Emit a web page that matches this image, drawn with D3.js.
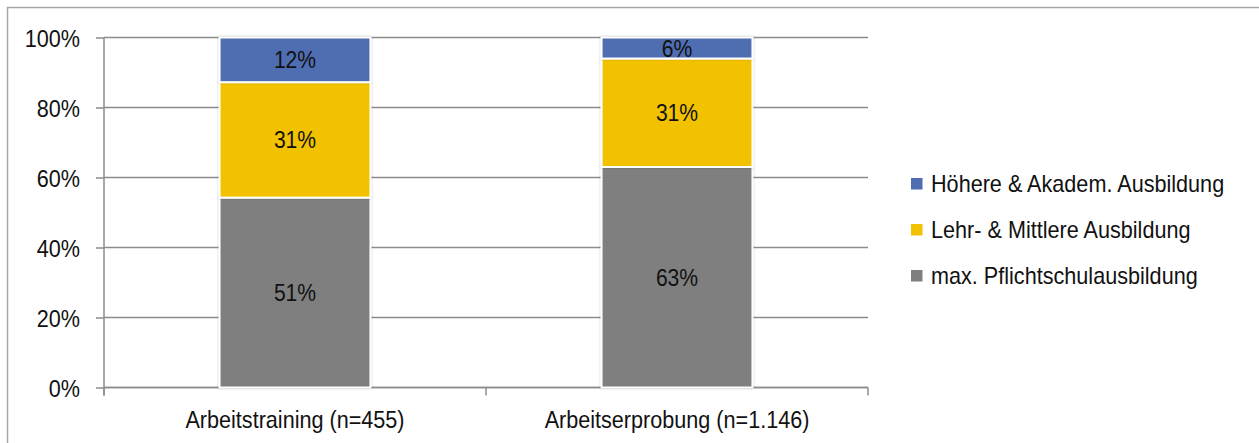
<!DOCTYPE html>
<html>
<head>
<meta charset="utf-8">
<script src="https://cdn.jsdelivr.net/npm/d3@7"></script>
<style>
  html, body { margin: 0; padding: 0; background: #fff; }
  svg { display: block; font-family: "Liberation Sans", Arial, sans-serif; }
</style>
</head>
<body>
<svg id="chart" width="1259" height="443"></svg>
<script>
// Education level by programme, shares of participants
const categories = ["Arbeitstraining (n=455)", "Arbeitserprobung (n=1.146)"];
const seriesNames = ["max. Pflichtschulausbildung", "Lehr- & Mittlere Ausbildung", "Höhere & Akadem. Ausbildung"];
const pflichtschule = [51, 63];
const lehrMittlere = [31, 31];
const hoehereAkadem = [12, 6];
const yTicks = [0, 0.2, 0.4, 0.6, 0.8, 1];
const colors = ["#7f7f7f", "#f2c200", "#506db1"];

const rows = categories.map((c, i) => ({
  category: c,
  [seriesNames[0]]: pflichtschule[i],
  [seriesNames[1]]: lehrMittlere[i],
  [seriesNames[2]]: hoehereAkadem[i]
}));

const svg = d3.select("#chart");
const margin = { left: 104, right: 1259 - 868, top: 37.5, bottom: 443 - 387.5 };
const plotW = 1259 - margin.left - margin.right;
const plotH = 443 - margin.top - margin.bottom;

// outer frame
svg.append("rect")
  .attr("x", 7.5).attr("y", 7.5)
  .attr("width", 1300).attr("height", 500)
  .attr("fill", "none").attr("stroke", "#a6a6a6").attr("stroke-width", 1.5);

const g = svg.append("g").attr("transform", `translate(${margin.left},${margin.top})`);

const x = d3.scaleBand().domain(categories).range([0, plotW])
  .paddingInner(0.605).paddingOuter(0.3025);
const y = d3.scaleLinear().domain([0, 1]).range([plotH, 0]);
const color = d3.scaleOrdinal().domain(seriesNames).range(colors);

const stack = d3.stack().keys(seriesNames).offset(d3.stackOffsetExpand);
const layers = stack(rows);

// horizontal gridlines
g.append("g").selectAll("line").data(yTicks).join("line")
  .attr("x1", 0).attr("x2", plotW)
  .attr("y1", d => y(d)).attr("y2", d => y(d))
  .attr("stroke", "#8c8c8c").attr("stroke-width", 1.5);

// y axis
const yAxis = g.append("g")
  .call(d3.axisLeft(y).tickValues(yTicks).tickFormat(d3.format(".0%")).tickSize(8).tickPadding(0));
yAxis.select(".domain").remove();
yAxis.selectAll(".tick line").attr("stroke", "#8c8c8c").attr("stroke-width", 1.5);
yAxis.selectAll(".tick text").remove();
yAxis.selectAll(".tick").append("text")
  .attr("transform", "translate(-24,8.5) scale(0.9,1)")
  .attr("text-anchor", "end")
  .attr("fill", "#111").attr("font-size", 24)
  .text(d => d3.format(".0%")(d));
g.append("line")
  .attr("x1", 0).attr("x2", 0).attr("y1", 0).attr("y2", plotH + 8)
  .attr("stroke", "#8c8c8c").attr("stroke-width", 1.5);

// x axis: boundary ticks between categories
const step = x.step();
const bounds = [0].concat(categories.map(c => x(c) + x.bandwidth() + step * x.paddingInner() / 2));
g.append("g").selectAll("line").data(bounds).join("line")
  .attr("x1", d => d).attr("x2", d => d)
  .attr("y1", plotH).attr("y2", plotH + 8)
  .attr("stroke", "#8c8c8c").attr("stroke-width", 1.5);
g.append("line")
  .attr("x1", 0).attr("x2", plotW).attr("y1", plotH).attr("y2", plotH)
  .attr("stroke", "#8c8c8c").attr("stroke-width", 1.5);
g.append("g").selectAll("text").data(categories).join("text")
  .attr("transform", d => `translate(${x(d) + x.bandwidth() / 2},${plotH + 40.5}) scale(0.9,1)`)
  .attr("text-anchor", "middle")
  .attr("fill", "#111").attr("font-size", 24)
  .text(d => d);

// soft edge around bar segments
const defs = svg.append("defs");
const f = defs.append("filter").attr("id", "soft").attr("x", "-10%").attr("y", "-10%").attr("width", "120%").attr("height", "120%");
f.append("feDropShadow").attr("dx", 0).attr("dy", 0).attr("stdDeviation", 1.2)
  .attr("flood-color", "#000").attr("flood-opacity", 0.25);

// stacked bars
const layerG = g.append("g").selectAll("g").data(layers).join("g")
  .attr("fill", d => color(d.key));
layerG.selectAll("rect").data(d => d).join("rect")
  .attr("x", d => x(d.data.category))
  .attr("width", x.bandwidth())
  .attr("y", d => y(d[1]))
  .attr("height", d => y(d[0]) - y(d[1]))
  .attr("stroke", "#fff").attr("stroke-width", 2)
  .attr("filter", "url(#soft)");

// value labels
layers.forEach(layer => {
  g.append("g").selectAll("text").data(layer).join("text")
    .attr("transform", d => `translate(${x(d.data.category) + x.bandwidth() / 2},${(y(d[0]) + y(d[1])) / 2 + 8.5}) scale(0.88,1)`)
    .attr("text-anchor", "middle")
    .attr("fill", "#111").attr("font-size", 24)
    .text(d => d.data[layer.key] + "%");
});

// legend
const legendOrder = seriesNames.slice().reverse();
const lg = svg.append("g").attr("transform", "translate(911,0)");
const item = lg.selectAll("g").data(legendOrder).join("g")
  .attr("transform", (d, i) => `translate(0,${184 + i * 46})`);
item.append("rect")
  .attr("x", 0).attr("y", -6).attr("width", 11.5).attr("height", 11.5)
  .attr("fill", d => color(d));
item.append("text")
  .attr("transform", "translate(20,8) scale(0.94,1)")
  .attr("fill", "#111").attr("font-size", 23)
  .text(d => d);
</script>
</body>
</html>
